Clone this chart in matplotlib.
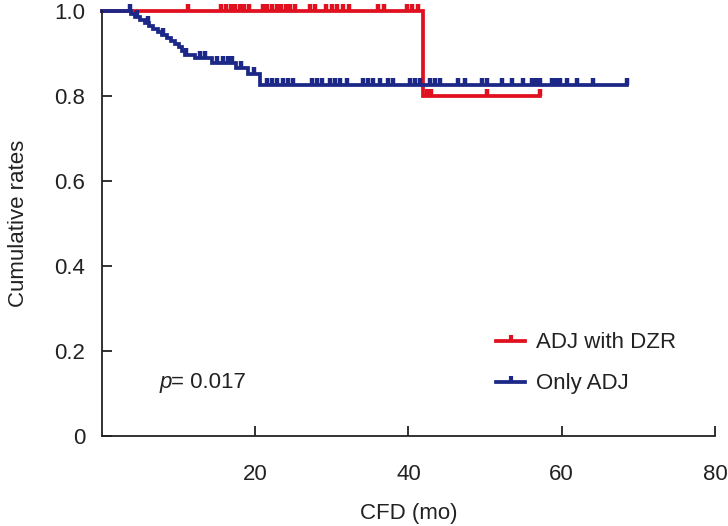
import numpy as np
import matplotlib
matplotlib.use("Agg")
import matplotlib.pyplot as plt
from matplotlib.lines import Line2D

plt.rcParams['font.family'] = ['Liberation Sans', 'DejaVu Sans']

# ADJ with DZR (red)
dzr_times = [0, 41.9, 57.2]
dzr_surv = [1.0, 0.80, 0.80]
dzr_cens = [11.2, 15.6, 16.2, 16.8, 17.4, 18.0, 18.6, 19.2,
            21.0, 21.6, 22.2, 22.8, 23.4, 24.0, 24.6, 25.2,
            27.1, 27.8, 29.3, 30.0, 30.7, 31.4, 32.2,
            36.0, 36.8, 39.8, 40.5, 41.2,
            42.4, 43.0, 50.2, 57.2]

# Only ADJ (blue)
adj_times = [0, 3.8, 4.3, 5.0, 5.6, 6.2, 6.7, 7.3, 7.9, 8.5, 9.0, 9.6,
             10.0, 10.4, 10.8, 12.2, 14.4, 17.5, 19.0, 20.6, 68.5]
adj_surv = [1.0, 0.993, 0.986, 0.979, 0.972, 0.965, 0.958, 0.951, 0.944,
            0.937, 0.930, 0.923, 0.916, 0.906, 0.897, 0.889, 0.878,
            0.865, 0.853, 0.827, 0.827]
adj_cens = [3.7, 4.6, 6.0, 8.0, 11.0, 12.8, 13.4, 15.0, 15.8, 16.4, 17.0,
            18.2, 19.8,
            21.5, 22.2, 22.8, 23.6, 24.3, 24.9,
            27.4, 28.1, 28.7, 29.8, 30.4, 31.1, 32.0,
            34.1, 34.7, 35.4, 36.3, 37.3, 38.0,
            40.2, 40.8, 41.5, 42.8, 43.5, 44.1, 46.5, 47.4, 49.6, 50.2,
            52.2, 53.5, 54.9, 56.1, 56.6, 57.2, 58.7, 59.2, 59.8,
            60.7, 62.0, 64.1, 68.5]

red = '#e0101e'
blue = '#1c2887'
ink = '#222222'

# upward tick used as censor mark
tick_up = [(0, 0), (0, 1)]


def step_value(times, surv, t):
    idx = np.searchsorted(times, t, side='right') - 1
    return np.asarray(surv)[idx]


fig = plt.figure(figsize=(7.28, 5.26), dpi=100)
ax = fig.add_axes([0.140, 0.171, 0.842, 0.808])

for times, surv, cens, col in [(dzr_times, dzr_surv, dzr_cens, red),
                               (adj_times, adj_surv, adj_cens, blue)]:
    ax.step(times, surv, where='post', color=col, lw=2.7, clip_on=False,
            solid_joinstyle='miter')
    ax.plot(cens, step_value(times, surv, cens), ls='none', marker=tick_up,
            ms=10, mew=3.2, color=col, clip_on=False)

ax.set_xlim(0, 80)
ax.set_ylim(0, 1.0)
ax.set_xticks([20, 40, 60, 80])
ax.set_yticks([0, 0.2, 0.4, 0.6, 0.8, 1.0])
ax.set_yticklabels(['0', '0.2', '0.4', '0.6', '0.8', '1.0'])
ax.tick_params(direction='in', length=7, width=1.3, labelsize=16,
               colors=ink)
ax.tick_params(axis='x', pad=20)
ax.tick_params(axis='y', pad=12)
for s in ['top', 'right']:
    ax.spines[s].set_visible(False)
for s in ['left', 'bottom']:
    ax.spines[s].set_linewidth(1.3)
    ax.spines[s].set_color(ink)

ax.set_xlabel('CFD (mo)', fontsize=16, labelpad=13, color=ink)
ax.set_ylabel('Cumulative rates', fontsize=16, labelpad=18, color=ink)

ax.text(7.5, 0.125, 'p', fontsize=16, style='italic', va='center', color=ink)
ax.text(9.0, 0.125, '= 0.017', fontsize=16, va='center', color=ink)

handles = [Line2D([0], [0], color=red, lw=2.7, marker=tick_up, ms=9,
                  mew=3.0),
           Line2D([0], [0], color=blue, lw=2.7, marker=tick_up, ms=9,
                  mew=3.0)]
ax.legend(handles, ['ADJ with DZR', 'Only ADJ'], loc='upper left',
          bbox_to_anchor=(0.625, 0.27), frameon=False, fontsize=16,
          handlelength=1.3, handletextpad=0.5, labelspacing=0.9,
          borderpad=0, numpoints=1, labelcolor=ink)

fig.savefig('out.png', dpi=100)
